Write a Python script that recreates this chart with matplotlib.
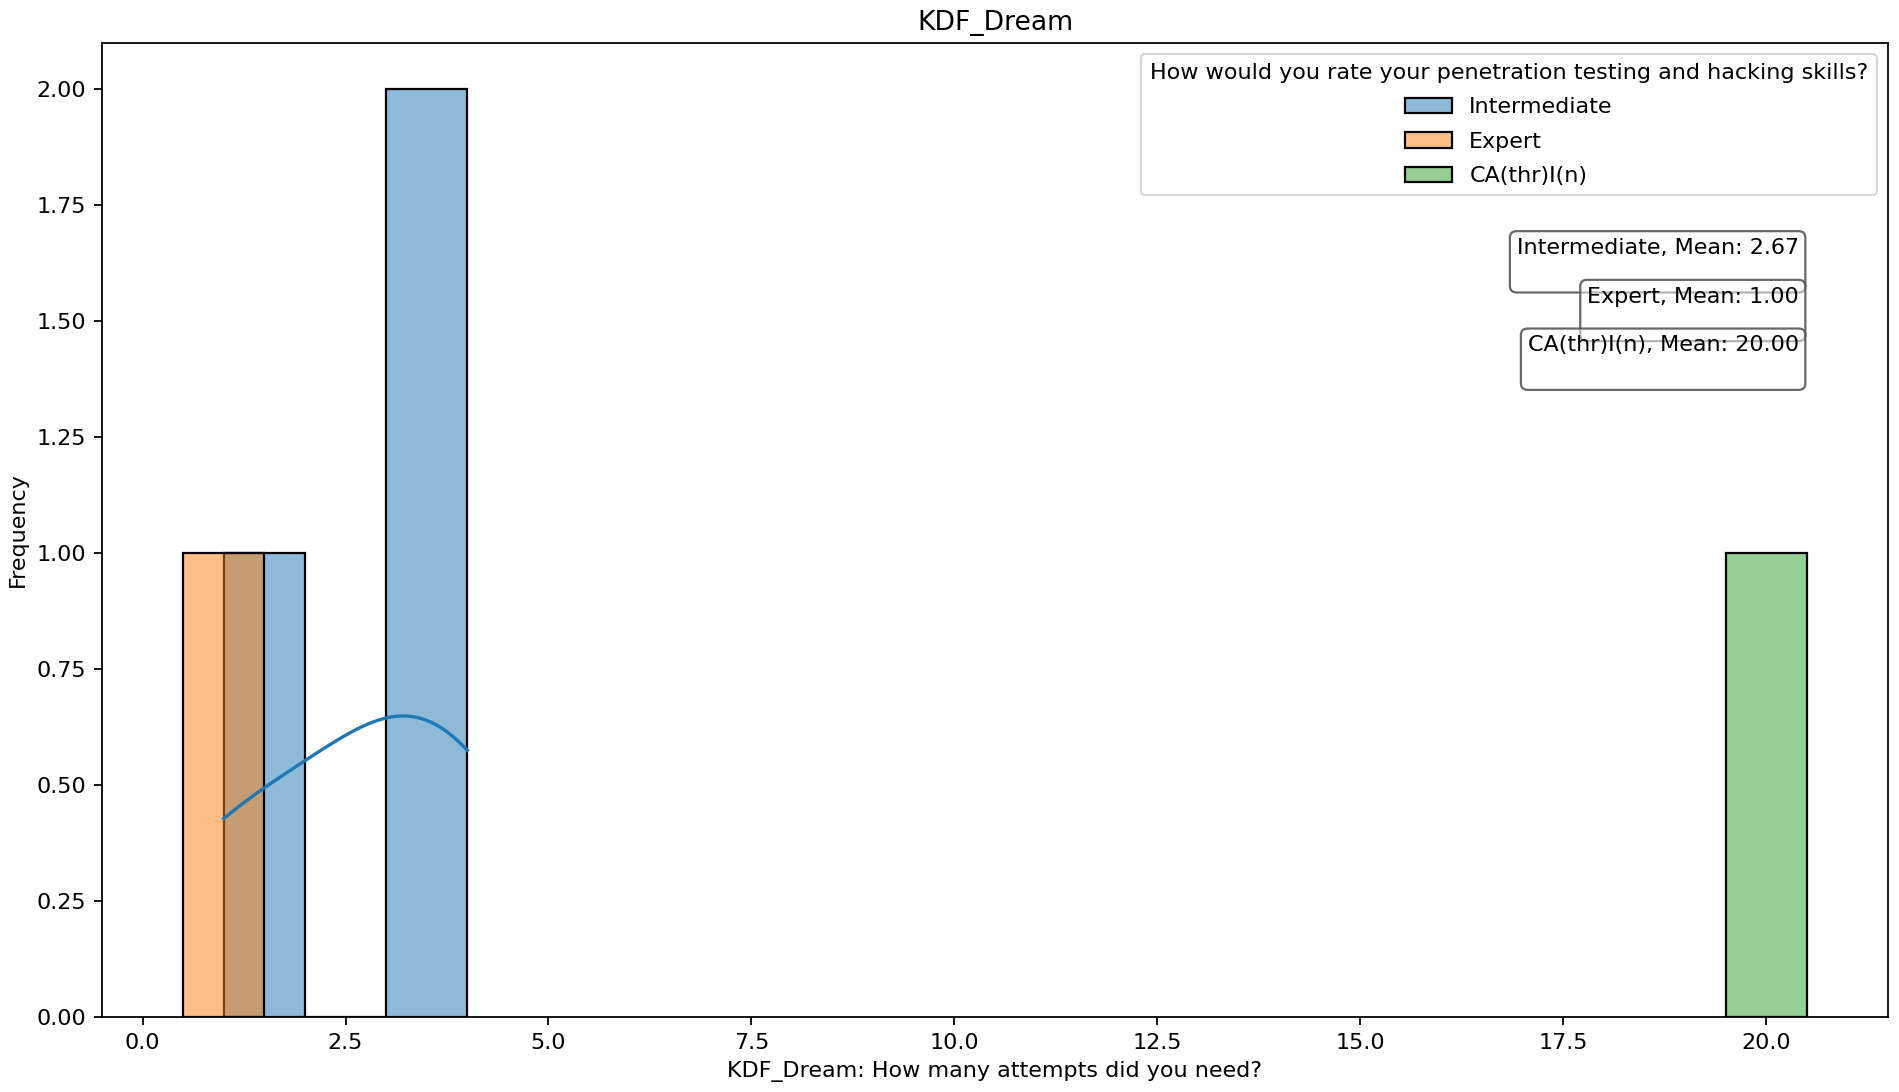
import warnings
import matplotlib
matplotlib.use('Agg')
import matplotlib.pyplot as plt
import numpy as np
import seaborn as sns

warnings.filterwarnings('ignore')

# answers per skill level (KDF_Dream: attempts needed)
skill_levels = ['Intermediate', 'Expert', 'CA(thr)I(n)']
attempts_intermediate = [1, 3, 4]
attempts_expert = [1]
attempts_cathrin = [20]
level_colors = ['tab:blue', 'tab:orange', 'tab:green']

legend_title = 'How would you rate your penetration testing and hacking skills?'
x_label = 'KDF_Dream: How many attempts did you need?'
chart_title = 'KDF_Dream'


def main():
    dpi = 160
    fig, ax = plt.subplots(figsize=(1899 / dpi, 1092 / dpi), dpi=dpi)
    fig.subplots_adjust(left=0.0537, right=0.9942, top=0.9606, bottom=0.0687)

    groups = [attempts_intermediate, attempts_expert, attempts_cathrin]

    # one histogram (+ kde) per skill level
    for name, vals, col in zip(skill_levels, groups, level_colors):
        sns.histplot(np.array(vals, dtype=float), kde=True, color=col, label=name, ax=ax)

    # mean boxes
    for i, (name, vals) in enumerate(zip(skill_levels, groups)):
        ax.text(0.95, 0.8 - 0.05 * i, '{}, Mean: {:.2f}\n'.format(name, np.mean(vals)),
                transform=ax.transAxes, ha='right', va='top', linespacing=1.5,
                bbox=dict(boxstyle='round', facecolor=(1, 1, 1, 0.5),
                          edgecolor=(0.3, 0.3, 0.3, 0.85)))

    ax.legend(title=legend_title, loc='upper right', labelspacing=0.65, handlelength=2.1)
    ax.set_title(chart_title)
    ax.set_xlabel(x_label)
    ax.set_ylabel('Frequency')

    fig.savefig('out.png', dpi=dpi)


if __name__ == '__main__':
    main()
